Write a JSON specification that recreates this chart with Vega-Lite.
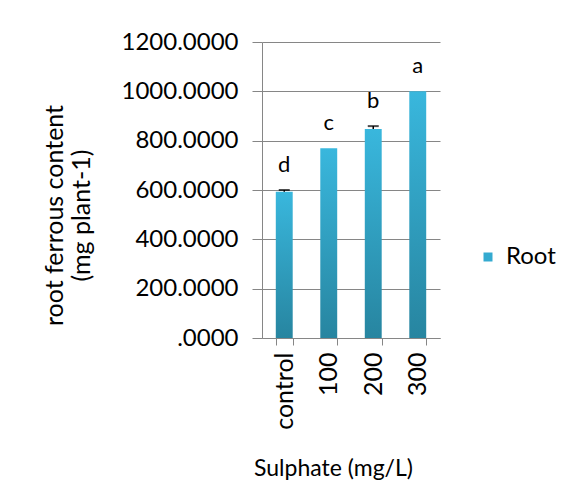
{
  "$schema": "https://vega.github.io/schema/vega-lite/v6.json",
  "width": 178,
  "height": 296,
  "autosize": {"type": "none"},
  "padding": {"left": 262, "top": 42, "right": 137, "bottom": 161},
  "background": "white",
  "config": {
    "font": "Lato",
    "view": {"stroke": null},
    "axis": {"labelFont": "Lato", "titleFont": "Lato", "labelColor": "#000000", "titleColor": "#000000", "titleFontWeight": "normal", "labelFontSize": 24, "titleFontSize": 24}
  },
  "data": {
    "values": [
      {"sulphate": "control", "value": 593, "cap": 600, "top": 600, "letter": "d", "series": "Root"},
      {"sulphate": "100", "value": 769, "cap": null, "top": 769, "letter": "c", "series": "Root"},
      {"sulphate": "200", "value": 847, "cap": 859, "top": 859, "letter": "b", "series": "Root"},
      {"sulphate": "300", "value": 1000, "cap": null, "top": 1000, "letter": "a", "series": "Root"}
    ]
  },
  "encoding": {
    "x": {
      "field": "sulphate", "type": "nominal", "sort": null,
      "scale": {"paddingInner": 0.62, "paddingOuter": 0.31},
      "axis": {
        "title": "Sulphate (mg/L)", "titleFontSize": 23, "labelFontSize": 25, "labelAngle": -90, "labelAlign": "right", "labelBaseline": "middle",
        "domainColor": "#868686", "tickColor": "#868686", "tickSize": 7, "tickBand": "extent",
        "labelPadding": 7, "titlePadding": 28, "titleX": 71, "titleAlign": "center", "grid": false
      }
    }
  },
  "layer": [
    {
      "mark": {"type": "bar", "fill": {"gradient": "linear", "x1": 0, "y1": 0, "x2": 0, "y2": 1, "stops": [{"offset": 0, "color": "#39B7DD"}, {"offset": 1, "color": "#2785A0"}]}},
      "encoding": {
        "y": {
          "field": "value", "type": "quantitative",
          "scale": {"domain": [0, 1200], "nice": false},
          "axis": {
            "values": [0, 200, 400, 600, 800, 1000, 1200],
            "labelExpr": "datum.value == 0 ? '.0000' : format(datum.value, '.4f')",
            "title": ["root ferrous content", "(mg plant-1)"],
            "titleFontSize": 25,
            "titleLineHeight": 27, "titleX": -195, "titleY": 173,
            "grid": true, "gridColor": "#868686", "domainColor": "#868686", "tickColor": "#868686",
            "tickSize": 10, "labelPadding": 14
          }
        }
      }
    },
    {
      "mark": {"type": "point", "shape": "square", "filled": true, "size": 0, "opacity": 1},
      "encoding": {
        "y": {"field": "value", "type": "quantitative"},
        "color": {
          "field": "series", "type": "nominal", "title": null,
          "scale": {"range": ["#34AAD0"]},
          "legend": {"orient": "none", "legendX": 214, "legendY": 203, "symbolType": "square", "symbolSize": 81, "labelFont": "Lato", "labelFontSize": 24, "labelOffset": 6, "labelColor": "#000000", "symbolStrokeWidth": 0}
        }
      }
    },
    {
      "mark": {"type": "rule", "color": "#000000", "strokeWidth": 1.5},
      "encoding": {"y": {"field": "value", "type": "quantitative"}, "y2": {"field": "cap"}}
    },
    {
      "mark": {"type": "tick", "color": "#000000", "thickness": 2, "size": 11},
      "encoding": {"y": {"field": "cap", "type": "quantitative"}}
    },
    {
      "mark": {"type": "text", "font": "Lato", "fontSize": 22, "baseline": "alphabetic", "dy": -18, "color": "#000000"},
      "encoding": {"y": {"field": "top", "type": "quantitative"}, "text": {"field": "letter"}}
    }
  ]
}
